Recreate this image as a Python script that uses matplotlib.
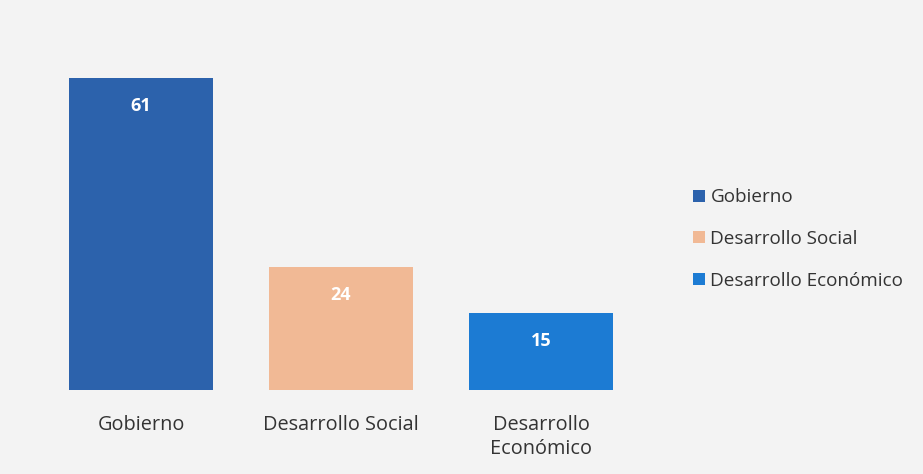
import matplotlib.pyplot as plt
from matplotlib.patches import Patch

# datos del gráfico
categorias = ['Gobierno', 'Desarrollo Social', 'Desarrollo\nEconómico']
leyenda = ['Gobierno', 'Desarrollo Social', 'Desarrollo Económico']
valores = [61, 24, 15]
colores = ['#2C62AC', '#F1B995', '#1C7BD3']

plt.rcParams['font.family'] = ['Open Sans', 'DejaVu Sans']

fig = plt.figure(figsize=(9.23, 4.74), dpi=100)
fig.patch.set_facecolor('#f3f3f3')
ax = fig.add_axes([41/923, 84/474, 600/923, 358/474])
ax.set_facecolor('none')

x = range(len(valores))
bars = ax.bar(x, valores, width=0.72, color=colores)
for b, v in zip(bars, valores):
    ax.text(b.get_x() + b.get_width()/2, v - 5.5, str(v), ha='center', va='center',
            color='white', fontsize=13, fontweight='bold')

ax.set_xlim(-0.5, 2.5)
ax.set_ylim(0, 70)
ax.set_xticks(list(x))
ax.set_xticklabels(categorias, fontsize=14.3, color='#333333', linespacing=1.25)
ax.tick_params(axis='x', length=0, pad=18)
ax.set_yticks([])
for s in ax.spines.values():
    s.set_visible(False)

handles = [Patch(facecolor=c, edgecolor='none') for c in colores]
fig.legend(handles, leyenda, loc='center left', bbox_to_anchor=(676/923, 1 - 239/474),
           frameon=False, fontsize=13.6, labelspacing=1.25, handlelength=0.62,
           handleheight=0.62, handletextpad=0.3, labelcolor='#333333')

fig.savefig('out.png', dpi=100, facecolor=fig.get_facecolor())
